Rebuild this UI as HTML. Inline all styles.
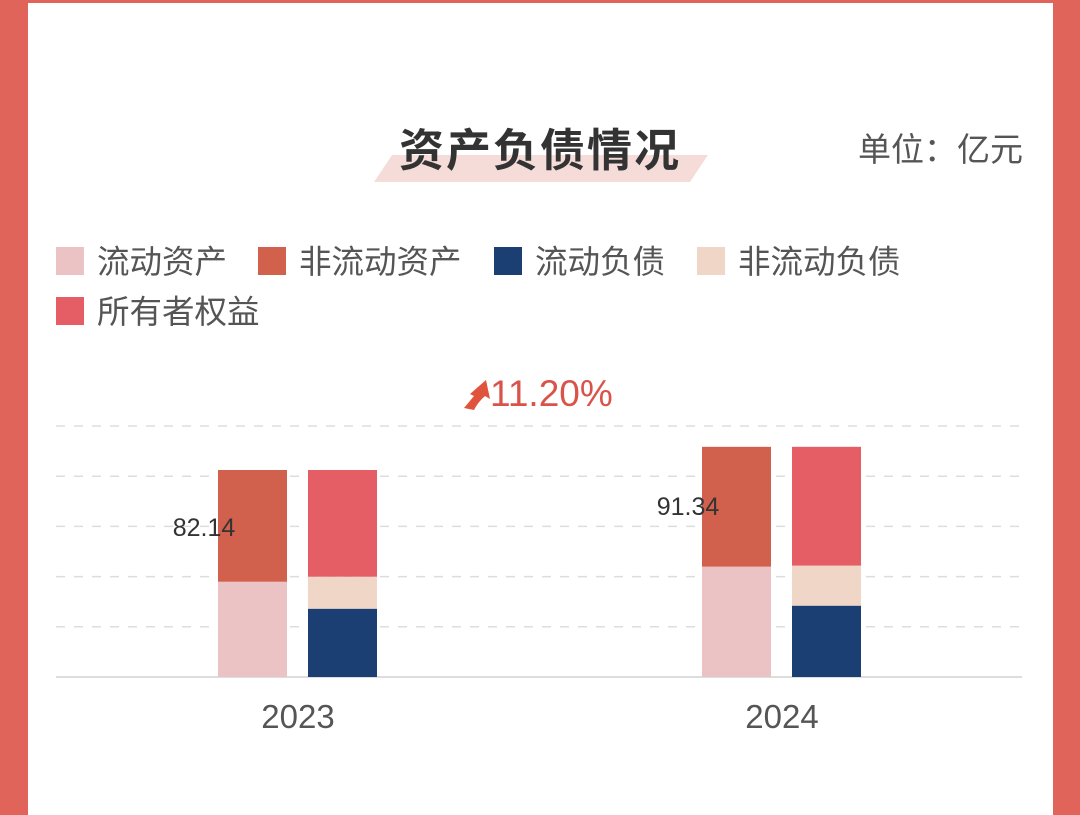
<!DOCTYPE html>
<html><head><meta charset="utf-8"><style>
body{margin:0;width:1080px;height:815px;background:#e0645a;overflow:hidden;font-family:"Liberation Sans","Noto Sans CJK SC",sans-serif}
#card{position:absolute;left:28px;top:3px;width:1025px;height:812px;background:#fff}
</style></head><body>
<div id="card"></div>
<svg width="1080" height="815" style="position:absolute;left:0;top:0">
<polygon points="392,155 708,155 690,182 374,182" fill="#f6dcd8"/>
<text x="540" y="166" text-anchor="middle" font-size="45" font-weight="bold" letter-spacing="2" fill="#333" font-family="Noto Sans CJK SC,sans-serif">资产负债情况</text>
<text x="858" y="161" font-size="33" fill="#555" font-family="Noto Sans CJK SC,sans-serif">单位：亿元</text>
<g id="legend" font-size="32.5" fill="#555" font-family="Noto Sans CJK SC,sans-serif"></g>
<g id="grid"></g><g id="bars"></g>
<path d="M464,408 L474,396 L470,394 L486,380 L490,399 L485,396 Q478,402 474,410 Z" fill="#e0543e"/>
<text x="490" y="406" font-size="37" fill="#d9534a">11.20%</text>
</svg>
<script>
const categories=["2023","2024"];
const currentAssets=[37.8,43.8];
const nonCurrentAssets=[44.34,47.54];
const currentLiab=[27.1,28.3];
const nonCurrentLiab=[12.7,15.9];
const equity=[42.34,47.14];
const totals=["82.14","91.34"];
const gridTicks=[0,20,40,60,80,100];
const legendNames=["流动资产","非流动资产","流动负债","非流动负债","所有者权益"];
const colors=["#ecc3c5","#d1604c","#1c3f73","#f0d6c6","#e55e66"];
const NS="http://www.w3.org/2000/svg";
const y=v=>677-v*2.52;
const gy=v=>677-v*2.51;
const xc=i=>298+i*484;
function mk(tag,attrs,parent){const e=document.createElementNS(NS,tag);for(const k in attrs)e.setAttribute(k,attrs[k]);document.getElementById(parent).appendChild(e);return e;}
gridTicks.forEach(t=>{let l=mk('line',{x1:56,x2:1022,y1:gy(t),y2:gy(t),stroke:'#ddd','stroke-width':t?1.5:2,'stroke-dasharray':t?'9,9':'none'},'grid');

});
const lpos=[[56,247],[258,247],[494,247],[697,247],[56,297]];
legendNames.forEach((n,i)=>{let r=mk('rect',{x:lpos[i][0],y:lpos[i][1],width:28,height:28,fill:colors[i]},'legend');


let t=mk('text',{x:lpos[i][0]+41,y:lpos[i][1]+26},'legend');t.textContent=n;

});
categories.forEach((c,i)=>{
  const stacks=[[currentAssets[i],nonCurrentAssets[i]],[currentLiab[i],nonCurrentLiab[i],equity[i]]];
  const cols=[[0,1],[2,3,4]];
  stacks.forEach((s,j)=>{let base=0;const x=xc(i)-80+j*90;
    s.forEach((v,k)=>{let r=mk('rect',{x:x,y:y(base+v),width:69,height:v*2.52,fill:colors[cols[j][k]]},'bars');
      
      base+=v;});});
  let t=mk('text',{x:xc(i)-94,y:y(currentAssets[i]+nonCurrentAssets[i])+(i==0?66:68),'font-size':25,fill:'#333','text-anchor':'middle'},'bars');t.textContent=totals[i];
  
  
  let xl=mk('text',{x:xc(i),y:728,'font-size':33,fill:'#555','text-anchor':'middle'},'bars');xl.textContent=c;
  
  
});
</script>
</body></html>
